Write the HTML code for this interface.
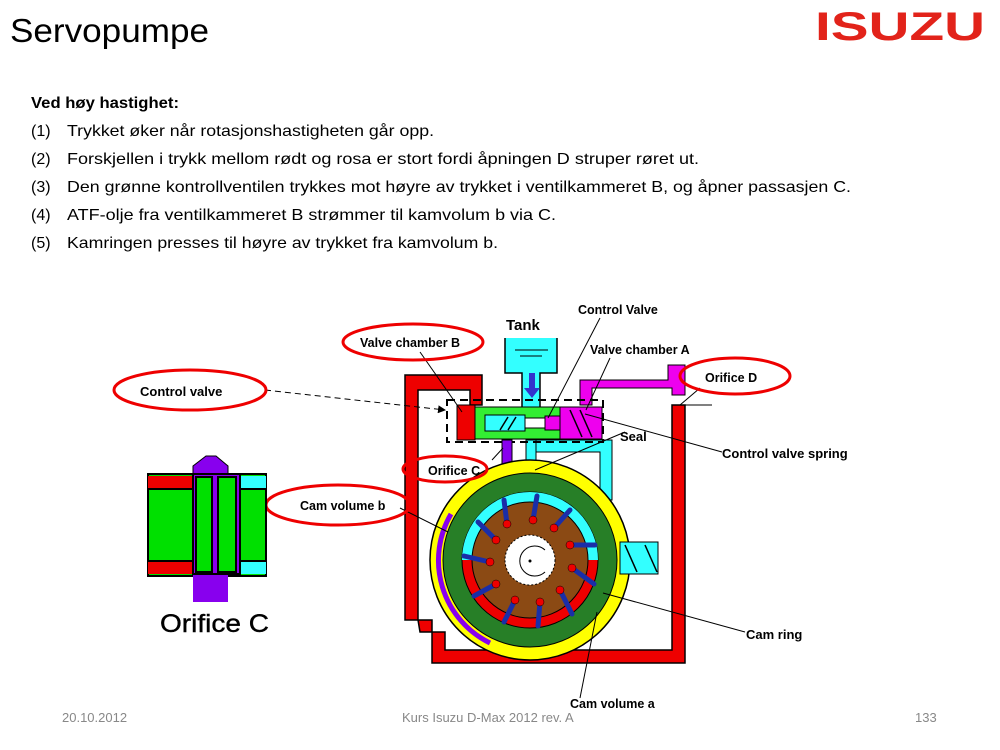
<!DOCTYPE html>
<html><head><meta charset="utf-8"><style>
html,body{margin:0;padding:0;background:#fff;}
body{width:1000px;height:750px;overflow:hidden;position:relative;font-family:"Liberation Sans",sans-serif;}
</style></head><body>
<svg width="1000" height="750" viewBox="0 0 1000 750" xmlns="http://www.w3.org/2000/svg" style="position:absolute;left:0;top:0">
<defs>
<marker id="ah" markerWidth="8" markerHeight="8" refX="7" refY="4" orient="auto"><path d="M0,0 L8,4 L0,8 z" fill="#000"/></marker>
</defs>
<text x="10" y="42" font-size="33" fill="#000" textLength="199" lengthAdjust="spacingAndGlyphs">Servopumpe</text>
<text x="815" y="40" font-size="40" font-weight="bold" fill="#e2231a" textLength="170" lengthAdjust="spacingAndGlyphs">ISUZU</text>

<g font-size="16" fill="#000">
<text x="31" y="108" font-weight="bold" textLength="148" lengthAdjust="spacingAndGlyphs">Ved høy hastighet:</text>
<text x="31" y="136">(1)</text><text x="67" y="136" textLength="367" lengthAdjust="spacingAndGlyphs">Trykket øker når rotasjonshastigheten går opp.</text>
<text x="31" y="164">(2)</text><text x="67" y="164" textLength="632" lengthAdjust="spacingAndGlyphs">Forskjellen i trykk mellom rødt og rosa er stort fordi åpningen D struper røret ut.</text>
<text x="31" y="192">(3)</text><text x="67" y="192" textLength="784" lengthAdjust="spacingAndGlyphs">Den grønne kontrollventilen trykkes mot høyre av trykket i ventilkammeret B, og åpner passasjen C.</text>
<text x="31" y="220">(4)</text><text x="67" y="220" textLength="489" lengthAdjust="spacingAndGlyphs">ATF-olje fra ventilkammeret B strømmer til  kamvolum b via C.</text>
<text x="31" y="248">(5)</text><text x="67" y="248" textLength="431" lengthAdjust="spacingAndGlyphs">Kamringen presses til høyre av trykket fra kamvolum b.</text>
</g>

<path d="M405,375 H482 V405 H470 V390 H418 V620 H432 V663 H685 V405 H672 V650 H445 V632 L420,632 L418,620 H405 Z" fill="#e00" stroke="#000" stroke-width="1.5"/>
<rect x="457" y="405" width="18" height="35" fill="#e00" stroke="#000"/>
<path d="M505,338 V373 H522 V410 H540 V373 H557 V338" fill="#3ff" stroke="#000" stroke-width="1.5"/>
<line x1="515" y1="350" x2="548" y2="350" stroke="#000"/><line x1="520" y1="356" x2="542" y2="356" stroke="#000"/>
<rect x="529" y="373" width="6" height="16" fill="#33c"/><path d="M524,388 L540,388 L532,398 z" fill="#33c"/>
<rect x="526" y="440" width="10" height="30" fill="#3ff" stroke="#000"/>
<path d="M536,440 H612 V500 L600,500 V452 H536 Z" fill="#3ff" stroke="#000"/>
<path d="M580,405 V380 H668 V365 H685 V395 H672 V388 H592 V405 Z" fill="#e0e" stroke="#000"/>
<rect x="475" y="407" width="85" height="32" fill="#3e3" stroke="#000"/>
<rect x="485" y="415" width="40" height="16" fill="#3ff" stroke="#000"/>
<rect x="525" y="418" width="20" height="10" fill="#fff" stroke="#000"/>
<rect x="545" y="416" width="35" height="14" fill="#e0e" stroke="#000"/>
<rect x="560" y="407" width="42" height="32" fill="#e0e" stroke="#000"/>
<g stroke="#000" stroke-width="1.5" fill="none"><line x1="570" y1="410" x2="582" y2="437"/><line x1="580" y1="410" x2="592" y2="437"/><line x1="500" y1="430" x2="508" y2="417"/><line x1="508" y1="430" x2="516" y2="417"/></g>
<rect x="447" y="400" width="156" height="42" fill="none" stroke="#000" stroke-width="2" stroke-dasharray="8,5"/>
<path d="M502,440 H512 V470 L505,480 L498,478 L502,468 Z" fill="#80e" stroke="#000"/>
<circle cx="530" cy="560" r="100" fill="#ff0" stroke="#000" stroke-width="1.5"/>
<path d="M451,514 A92,92 0 0 0 490,643" fill="none" stroke="#80e" stroke-width="5"/>
<circle cx="530" cy="560" r="87" fill="#277f27" stroke="#000"/>
<circle cx="530" cy="560" r="68" fill="#e00" stroke="#000"/>
<path d="M462,560 A68,68 0 0 1 598,560 L585,560 A55,55 0 0 0 475,560 Z" fill="#3ff"/>
<circle cx="530" cy="560" r="58" fill="#8b4a14" stroke="#000"/>
<circle cx="530" cy="560" r="25" fill="#fff" stroke="#000" stroke-dasharray="2,2"/>
<path d="M545,550 A15,15 0 1 0 545,572" fill="none" stroke="#000"/><circle cx="530" cy="561" r="1.5" fill="#000"/>
<g stroke="#1a2ea8" stroke-width="5" stroke-linecap="round">
<line x1="507" y1="524" x2="504" y2="500"/><line x1="533" y1="520" x2="537" y2="496"/><line x1="554" y1="528" x2="570" y2="510"/>
<line x1="570" y1="545" x2="595" y2="545"/><line x1="572" y1="568" x2="594" y2="584"/><line x1="560" y1="590" x2="572" y2="614"/>
<line x1="540" y1="602" x2="538" y2="626"/><line x1="515" y1="600" x2="504" y2="622"/><line x1="496" y1="584" x2="474" y2="596"/>
<line x1="490" y1="562" x2="464" y2="556"/><line x1="496" y1="540" x2="478" y2="522"/>
</g>
<g fill="#e00" stroke="#000" stroke-width="0.5">
<circle cx="507" cy="524" r="4"/><circle cx="533" cy="520" r="4"/><circle cx="554" cy="528" r="4"/><circle cx="570" cy="545" r="4"/><circle cx="572" cy="568" r="4"/><circle cx="560" cy="590" r="4"/><circle cx="540" cy="602" r="4"/><circle cx="515" cy="600" r="4"/><circle cx="496" cy="584" r="4"/><circle cx="490" cy="562" r="4"/><circle cx="496" cy="540" r="4"/>
</g>
<rect x="620" y="542" width="38" height="32" fill="#3ff" stroke="#000"/>
<g stroke="#000" stroke-width="1.5"><line x1="625" y1="545" x2="637" y2="572"/><line x1="645" y1="545" x2="657" y2="572"/></g>

<g stroke="#000" stroke-width="1" fill="none">
<line x1="420" y1="352" x2="462" y2="412"/>
<line x1="600" y1="318" x2="548" y2="418"/>
<line x1="610" y1="358" x2="586" y2="410"/>
<line x1="700" y1="388" x2="680" y2="405"/>
<line x1="722" y1="452" x2="585" y2="414"/>
<line x1="625" y1="432" x2="535" y2="470"/>
<line x1="492" y1="460" x2="503" y2="448"/>
<line x1="400" y1="508" x2="448" y2="532"/>
<line x1="745" y1="632" x2="603" y2="593"/>
<line x1="580" y1="698" x2="597" y2="612"/>
<line x1="265" y1="390" x2="445" y2="410" stroke-dasharray="6,4" marker-end="url(#ah)"/>
<line x1="672" y1="405" x2="712" y2="405"/>
</g>
<g font-family="'Liberation Sans',sans-serif" font-weight="bold" font-size="12.5" fill="#000">
<text x="506" y="330" font-size="15">Tank</text>
<text x="578" y="314">Control  Valve</text>
<text x="590" y="354">Valve chamber  A</text>
<text x="620" y="441" font-size="13">Seal</text>
<text x="722" y="458" font-size="13">Control valve spring</text>
<text x="746" y="639" font-size="13">Cam ring</text>
<text x="570" y="708">Cam volume a</text>
</g>
<g fill="none" stroke="#e00" stroke-width="3">
<ellipse cx="413" cy="342" rx="70" ry="18"/>
<ellipse cx="190" cy="390" rx="76" ry="20"/>
<ellipse cx="735" cy="376" rx="55" ry="18"/>
<ellipse cx="445" cy="469" rx="42" ry="13"/>
<ellipse cx="338" cy="505" rx="72" ry="20"/>
</g>
<g font-weight="bold" font-size="12.5" fill="#000">
<text x="360" y="347">Valve chamber B</text>
<text x="140" y="396" font-size="13">Control valve</text>
<text x="705" y="382">Orifice D</text>
<text x="428" y="475">Orifice C</text>
<text x="300" y="510">Cam volume b</text>
</g>

<rect x="148" y="474" width="118" height="102" fill="#00e000" stroke="#000" stroke-width="2"/>
<rect x="148" y="476" width="45" height="13" fill="#e00"/><rect x="240" y="476" width="26" height="13" fill="#3ff"/>
<rect x="148" y="561" width="45" height="13" fill="#e00"/><rect x="240" y="561" width="26" height="13" fill="#3ff"/>
<line x1="148" y1="489" x2="266" y2="489" stroke="#000" stroke-width="2"/><line x1="148" y1="561" x2="266" y2="561" stroke="#000" stroke-width="2"/>
<path d="M193,474 V466 L206,456 H216 L228,466 V474 Z" fill="#80e" stroke="#000"/>
<rect x="193" y="574" width="35" height="28" fill="#80e"/>
<rect x="193" y="474" width="47" height="100" fill="#80e" stroke="#000" stroke-width="2"/>
<rect x="196" y="477" width="16" height="95" fill="#00e000" stroke="#000" stroke-width="2"/>
<rect x="218" y="477" width="18" height="95" fill="#00e000" stroke="#000" stroke-width="2"/>
<text x="160" y="632" font-size="25" fill="#000" textLength="109" lengthAdjust="spacingAndGlyphs" stroke="#000" stroke-width="0.4">Orifice C</text>

<g font-size="13" fill="#888">
<text x="62" y="722">20.10.2012</text>
<text x="402" y="722">Kurs Isuzu D-Max 2012 rev. A</text>
<text x="915" y="722">133</text>
</g>
</svg>
</body></html>
